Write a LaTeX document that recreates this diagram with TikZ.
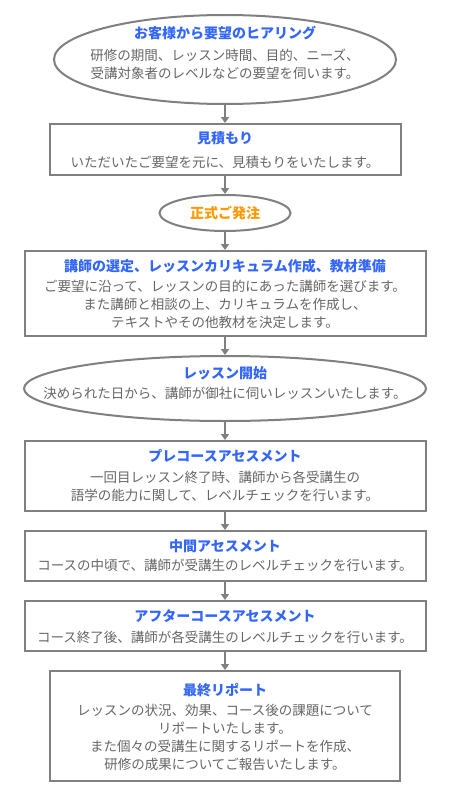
\documentclass[tikz,border=0pt]{standalone}
\usepackage{fontspec}
\newfontfamily\jp{Noto Sans CJK JP}
\usetikzlibrary{shapes.geometric,arrows.meta}
\definecolor{linegray}{HTML}{808080}
\definecolor{titleblue}{HTML}{3366FF}
\definecolor{titleorange}{HTML}{FF9900}
\definecolor{bodygray}{HTML}{666666}
\tikzset{
  boxshape/.style={draw=linegray, line width=2pt, rectangle, inner sep=0pt},
  ovalshape/.style={draw=linegray, line width=2pt, ellipse, inner sep=0pt},
  ttl/.style={font=\jp\bfseries\fontsize{14}{16}\selectfont, text=titleblue, inner sep=0pt},
  ttlorange/.style={ttl, text=titleorange},
  bodytext/.style={font=\jp\fontsize{13.5}{18}\selectfont, text=bodygray, align=center, inner sep=0pt},
  arr/.style={draw=linegray, line width=2pt, -{Triangle[width=8pt,length=6pt]}}
}
\begin{document}
\begin{tikzpicture}[x=1pt,y=-1pt]
\useasboundingbox[fill=white] (0,0) rectangle (450,800);
% shapes
\node[ovalshape, minimum width=342pt, minimum height=89pt] (e1) at (225,59.5) {};
\node[boxshape, minimum width=351pt, minimum height=51pt] (b2) at (225,149.5) {};
\node[ovalshape, minimum width=131pt, minimum height=36pt] (e3) at (225,213) {};
\node[boxshape, minimum width=401pt, minimum height=85pt] (b4) at (225,293.5) {};
\node[ovalshape, minimum width=402pt, minimum height=65pt] (e5) at (225,388.5) {};
\node[boxshape, minimum width=401pt, minimum height=70pt] (b6) at (225,476) {};
\node[boxshape, minimum width=401pt, minimum height=50pt] (b7) at (225,556) {};
\node[boxshape, minimum width=401pt, minimum height=50pt] (b8) at (225,626) {};
\node[boxshape, minimum width=350pt, minimum height=110pt] (b9) at (225,726) {};
% texts
\node[ttl] (e1t) at (225,33) {お客様から要望のヒアリング};
\node[bodytext] (e1b) at (225,64) {研修の期間、レッスン時間、目的、ニーズ、\\受講対象者のレベルなどの要望を伺います。};
\node[ttl] (b2t) at (225,138) {見積もり};
\node[bodytext] (b2b) at (225,162) {いただいたご要望を元に、見積もりをいたします。};
\node[ttlorange] (e3t) at (225,213) {正式ご発注};
\node[ttl] (b4t) at (225,266) {講師の選定、レッスンカリキュラム作成、教材準備};
\node[bodytext] (b4b) at (225,304.7) {ご要望に沿って、レッスンの目的にあった講師を選びます。\\また講師と相談の上、カリキュラムを作成し、\\テキストやその他教材を決定します。};
\node[ttl] (e5t) at (225,373) {レッスン開始};
\node[bodytext] (e5b) at (225,393) {決められた日から、講師が御社に伺いレッスンいたします。};
\node[ttl] (b6t) at (225,456) {プレコースアセスメント};
\node[bodytext] (b6b) at (225,486) {一回目レッスン終了時、講師から各受講生の\\語学の能力に関して、レベルチェックを行います。};
\node[ttl] (b7t) at (225,546) {中間アセスメント};
\node[bodytext] (b7b) at (225,565) {コースの中頃で、講師が受講生のレベルチェックを行います。};
\node[ttl] (b8t) at (225,616) {アフターコースアセスメント};
\node[bodytext] (b8b) at (225,637) {コース終了後、講師が各受講生のレベルチェックを行います。};
\node[ttl] (b9t) at (225,690) {最終リポート};
\node[bodytext] (b9b) at (225,737.5) {レッスンの状況、効果、コース後の課題について\\リポートいたします。\\また個々の受講生に関するリポートを作成、\\研修の成果についてご報告いたします。};
% connectors
\draw[arr] (e1) -- (b2);
\draw[arr] (b2) -- (e3);
\draw[arr] (e3) -- (b4);
\draw[arr] (b4) -- (e5);
\draw[arr] (e5) -- (b6);
\draw[arr] (b6) -- (b7);
\draw[arr] (b7) -- (b8);
\draw[arr] (b8) -- (b9);
\end{tikzpicture}
\end{document}
